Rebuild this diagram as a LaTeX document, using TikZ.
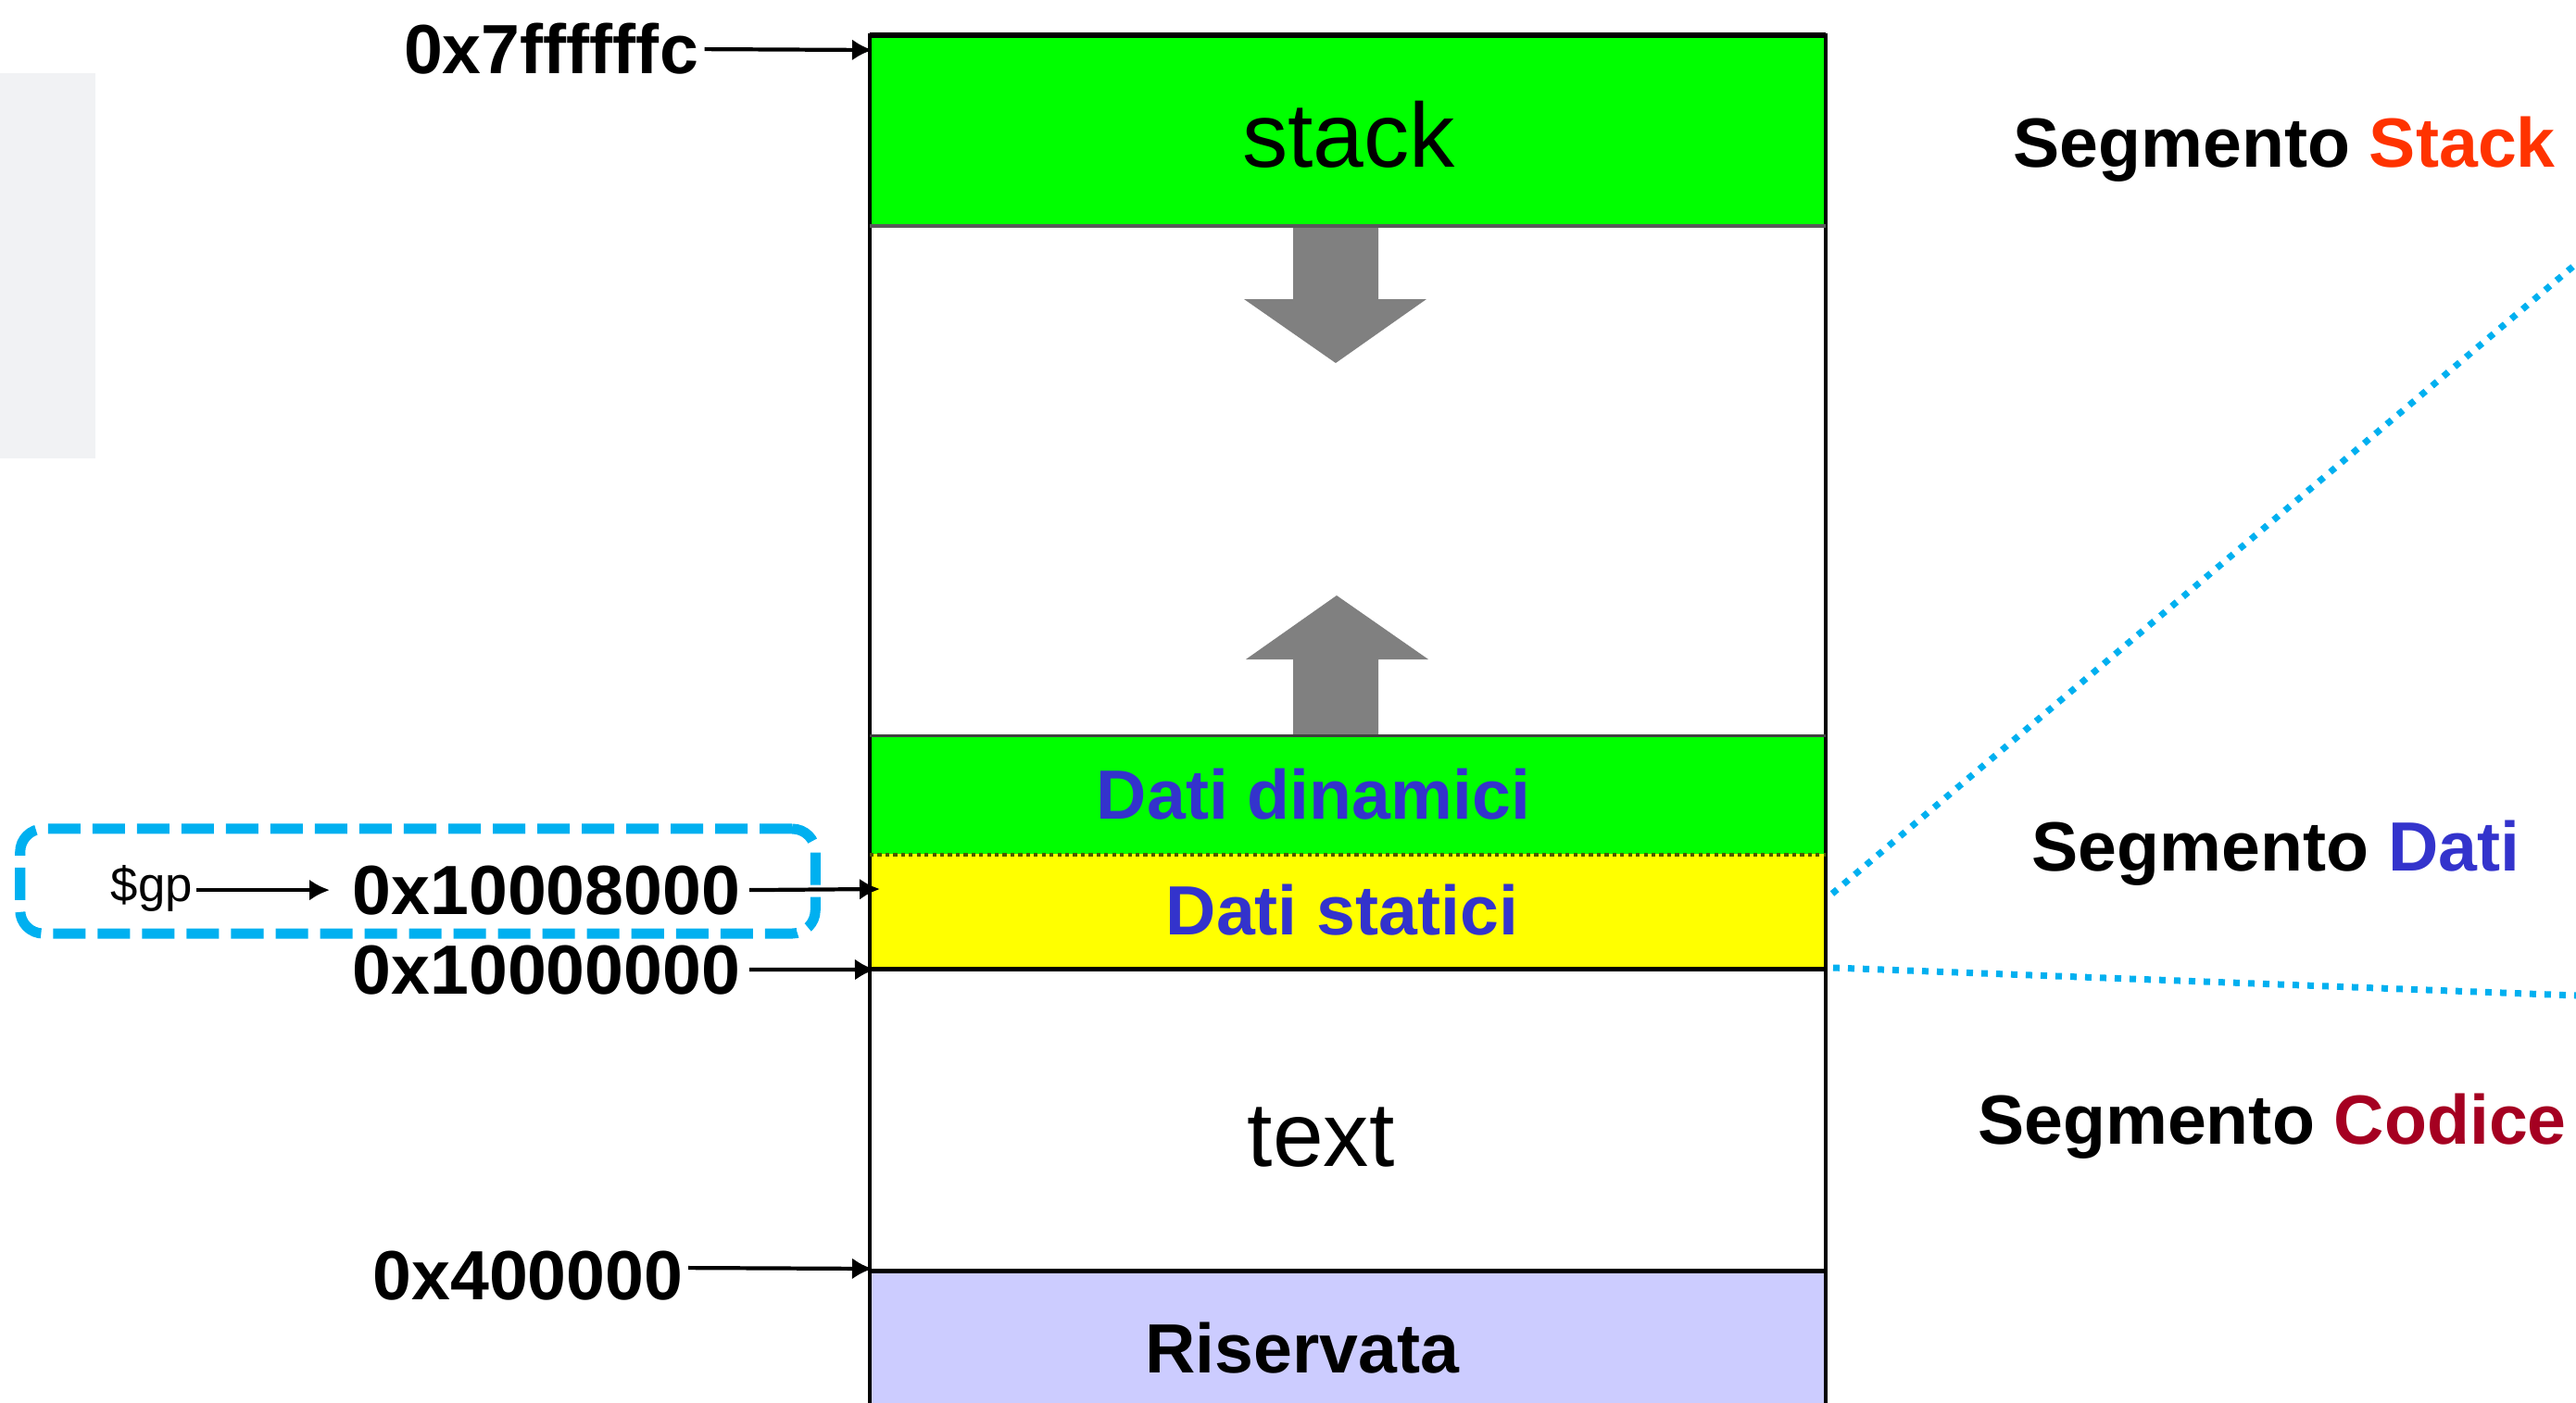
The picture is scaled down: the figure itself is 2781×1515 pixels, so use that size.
\documentclass[tikz,border=0pt]{standalone}
\usepackage{fontspec}
\setmainfont{Liberation Sans}
\usetikzlibrary{arrows.meta}
\definecolor{brightgreen}{HTML}{00FF00}
\definecolor{yel}{HTML}{FFFF00}
\definecolor{lav}{HTML}{CCCCFF}
\definecolor{arrgray}{HTML}{808080}
\definecolor{cyanb}{HTML}{00B0F0}
\definecolor{datiblue}{HTML}{3333CC}
\definecolor{stackred}{HTML}{FF3300}
\definecolor{codred}{HTML}{A50021}
\definecolor{panel}{HTML}{F1F2F4}
\definecolor{sepline}{HTML}{4D5A00}
\tikzset{
  lbl/.style={font=\fontsize{21.4}{26}\selectfont\bfseries, inner sep=0, anchor=base},
  bigtxt/.style={font=\fontsize{28}{34}\selectfont, inner sep=0, anchor=base},
  smalltxt/.style={font=\fontsize{15}{18}\selectfont, inner sep=0, anchor=base},
  arr/.style={-{Latex[length=2.2mm,width=2.3mm]}, line width=1.2pt},
  region/.style={draw=none, inner sep=0, minimum width=10.3cm},
  blockarrow/.style={fill=arrgray, draw=none},
  segdot/.style={draw=cyanb, line width=0.07cm, dash pattern=on 0.07cm off 0.09cm},
  border/.style={line width=1pt},
}
\begin{document}
\begin{tikzpicture}[x=0.01cm, y=-0.01cm]
\useasboundingbox (0,0) rectangle (2781,1515);
\fill[white] (0,0) rectangle (2781,1515);
% left grey panel
\node[fill=panel, inner sep=0, minimum width=1.03cm, minimum height=4.16cm] (panel) at (51.5,287) {};
% memory regions
\node[region, fill=brightgreen, minimum height=2.04cm] (stackreg) at (1455,141) {};
\node[region, fill=white, minimum height=5.52cm] (freereg) at (1455,519) {};
\node[region, fill=brightgreen, minimum height=1.27cm] (dinreg) at (1455,858.5) {};
\node[region, fill=yel, minimum height=1.24cm] (statreg) at (1455,984) {};
\node[region, fill=white, minimum height=3.27cm] (textreg) at (1455,1209.5) {};
\node[region, fill=lav, minimum height=1.57cm] (risreg) at (1455,1451.5) {};
% block arrows
\fill[blockarrow] (1396,243) -- (1488,243) -- (1488,323) -- (1540,323) -- (1442,392) -- (1343,323) -- (1396,323) -- cycle;
\fill[blockarrow] (1396,795) -- (1488,795) -- (1488,712) -- (1542,712) -- (1443,643) -- (1345,712) -- (1396,712) -- cycle;
% borders
\draw[border] (risreg.south west) -- (stackreg.north west) -- (stackreg.north east) -- (risreg.south east);
\draw[line width=1.6pt] (stackreg.north west) -- (stackreg.north east);
\draw[border, black!65] (stackreg.south west) -- (stackreg.south east);
\draw[border, black!75] (dinreg.north west) -- (dinreg.north east);
\draw[line width=1.2pt, sepline, dash pattern=on 1.2pt off 1.2pt] (dinreg.south west) -- (dinreg.south east);
\draw[line width=1.3pt] (statreg.south west) -- (statreg.south east);
\draw[line width=1.3pt] (risreg.north west) -- (risreg.north east);
% texts in regions
\node[bigtxt] (stacktxt) at (1456,180) {stack};
\node[lbl, text=datiblue] (dintxt) at (1418,884) {Dati dinamici};
\node[lbl, text=datiblue] (stattxt) at (1449,1009) {Dati statici};
\node[bigtxt] (texttxt) at (1426,1259) {text};
\node[lbl] (ristxt) at (1406,1482) {Riservata};
% address labels
\node[lbl] (l7f) at (595,80) {0x7ffffffc};
\node[lbl] (l108) at (590,987) {0x10008000};
\node[lbl] (l100) at (590,1073) {0x10000000};
\node[lbl] (l40) at (570,1403) {0x400000};
\node[smalltxt] (gp) at (164,973) {\$gp};
% arrow targets on the box
\coordinate (t7f) at (942,54);
\coordinate (t108) at (950,960);
\coordinate (t100) at (945,1047);
\coordinate (t40) at (942,1370);
\draw[arr] ([xshift=0.06cm]l7f.east) -- (t7f);
\draw[arr] ([xshift=0.09cm]l108.east) -- (t108);
\draw[arr] ([xshift=0.09cm]l100.east) -- (t100);
\draw[arr] ([xshift=0.05cm, yshift=0.08cm]l40.east) -- (t40);
\draw[arr, shorten >=0.24cm] ([xshift=0.03cm]gp.east |- l108.west) -- (l108.west);
% dashed highlight around $gp
\node[draw=cyanb, line width=0.11cm, dash pattern=on 0.35cm off 0.13cm, rounded corners=0.25cm, inner sep=0, minimum width=8.58cm, minimum height=1.13cm] (gpbox) at (451,951.5) {};
% segment labels
\node[lbl] (segstack) at (2466,180) {Segmento \textcolor{stackred}{Stack}};
\node[lbl] (segdati) at (2457,940) {Segmento \textcolor{datiblue}{Dati}};
\node[lbl] (segcod) at (2453,1235) {Segmento \textcolor{codred}{Codice}};
% dotted connector lines
\coordinate (d1s) at (1978,965);
\coordinate (d1e) at (2781,285);
\coordinate (d2s) at (1979,1045);
\coordinate (d2e) at (2781,1075);
\draw[segdot] (d1s) -- (d1e);
\draw[segdot] (d2s) -- (d2e);
\end{tikzpicture}
\end{document}
